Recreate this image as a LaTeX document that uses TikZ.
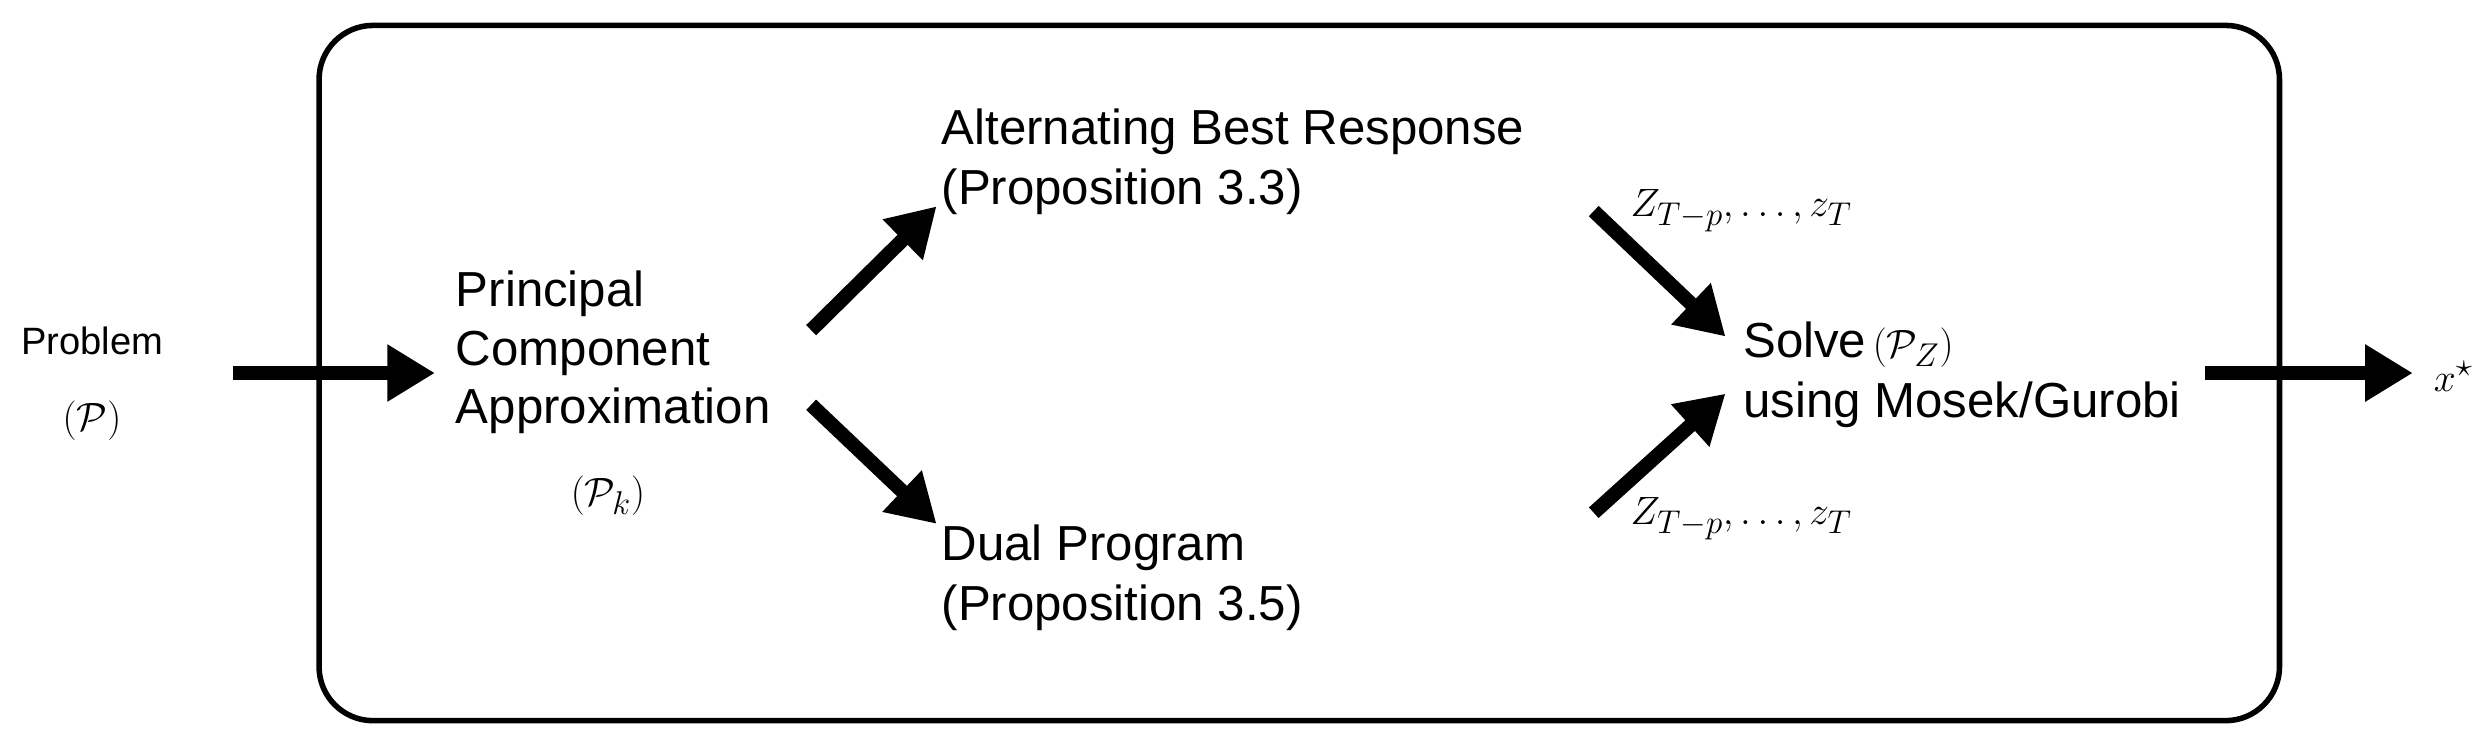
\documentclass[tikz,border=0pt]{standalone}
\usepackage{fontspec}
\setmainfont{Liberation Sans}
\usetikzlibrary{arrows.meta}
\begin{document}
\begin{tikzpicture}[x=1pt,y=-1pt,
  txt/.style={font=\fontsize{24}{29}\selectfont, inner sep=0pt},
  btxt/.style={font=\fontsize{31}{38}\selectfont, inner sep=0pt},
  lt/.style={btxt, anchor=west, align=left},
  big/.style={line width=9pt, -{Triangle[length=30pt,width=34pt]}}]
\useasboundingbox (0,0) rectangle (1568,468);
\draw[line width=3.5pt, rounded corners=34pt] (201,16) rectangle (1436,454);
\node[txt] (prob) at (58,215) {Problem};
\node[btxt] (probp) at (58,265) {$(\mathcal{P})$};
\node[lt] (pca) at (287,222) {Principal\\[-1pt]Component\\[-1pt]Approximation};
\node[btxt] (pk) at (383,312) {$(\mathcal{P}_k)$};
\node[lt] (abr) at (593,102) {Alternating Best Response\\(Proposition 3.3)};
\node[lt] (dual) at (593,364) {Dual Program\\(Proposition 3.5)};
\node[btxt, anchor=west] (zt) at (1027,133) {$Z_{T-p},\ldots,z_T$};
\node[btxt, anchor=west] (zb) at (1027,327) {$Z_{T-p},\ldots,z_T$};
\node[lt] (solve) at (1098,236) {Solve$\,(\mathcal{P}_Z)$\\using Mosek/Gurobi};
\node[btxt, anchor=west] (x) at (1533,237) {$x^\star$};
\coordinate (a1s) at (147,235); \coordinate (a1e) at (274,235);
\coordinate (a2s) at (511,208); \coordinate (a2e) at (590,130);
\coordinate (a3s) at (511,255); \coordinate (a3e) at (590,330);
\coordinate (a4s) at (1004,133); \coordinate (a4e) at (1087,212);
\coordinate (a5s) at (1004,323); \coordinate (a5e) at (1087,248);
\coordinate (a6s) at (1389,235); \coordinate (a6e) at (1520,235);
\draw[big] (a1s) -- (a1e);
\draw[big] (a2s) -- (a2e);
\draw[big] (a3s) -- (a3e);
\draw[big] (a4s) -- (a4e);
\draw[big] (a5s) -- (a5e);
\draw[big] (a6s) -- (a6e);
\end{tikzpicture}
\end{document}
